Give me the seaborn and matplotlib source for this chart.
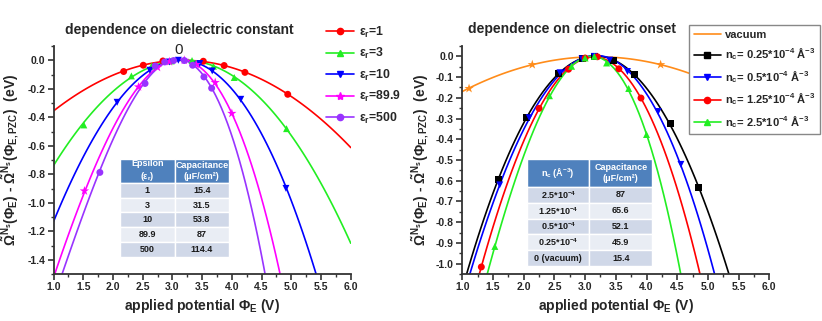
import numpy as np
import seaborn as sns
import matplotlib.pyplot as plt
from matplotlib.lines import Line2D
from matplotlib.ticker import MultipleLocator, FormatStrFormatter

# ---- left panel: dependence on dielectric constant (markers)
eps_names = ['1', '3', '10', '89.9', '500']
eps_colors = ['#FF0000', '#22EE22', '#0000FF', '#FF00FF', '#9933FF']
eps_markers = ['o', '^', 'v', '*', 'o']

e1_x = [2.18, 2.51, 2.84, 3.52, 3.87, 4.22, 4.94]
e1_y = [-0.079, -0.035, -0.005, -0.007, -0.037, -0.085, -0.239]
e3_x = [1.51, 2.31, 2.65, 2.98, 3.33, 3.69, 4.04, 4.92]
e3_y = [-0.454, -0.110, -0.040, -0.005, -0.002, -0.042, -0.121, -0.480]
e10_x = [2.07, 2.62, 2.95, 3.10, 3.46, 3.67, 4.15, 4.91]
e10_y = [-0.295, -0.070, -0.012, 0.0, -0.023, -0.075, -0.274, -0.899]
e89_x = [1.52, 2.43, 2.75, 2.95, 3.20, 3.40, 3.72, 4.00]
e89_y = [-0.917, -0.187, -0.050, -0.010, 0.0, -0.030, -0.156, -0.373]
e500_x = [1.78, 2.54, 2.71, 2.87, 3.02, 3.20, 3.34, 3.53, 3.66]
e500_y = [-0.787, -0.163, -0.040, -0.012, -0.002, -0.002, -0.035, -0.117, -0.196]

# points where the fitted curves leave the frame
e1_lx, e1_ly = [1.0, 6.0], [-0.355, -0.612]
e3_lx, e3_ly = [1.0, 6.0], [-0.731, -1.284]
e10_lx, e10_ly = [1.0, 5.42], [-1.132, -1.5]
e89_lx, e89_ly = [1.025, 4.81], [-1.5, -1.5]
e500_lx, e500_ly = [1.14, 4.56], [-1.5, -1.5]

eps_table = [['1', '15.4'], ['3', '31.5'], ['10', '53.8'], ['89.9', '87'], ['500', '114.4']]

# ---- right panel: dependence on dielectric onset
nc_names = ['0.25', '0.5', '1.25', '2.5']
nc_colors = ['#000000', '#0000FF', '#FF0000', '#22EE22']
nc_markers = ['s', 'v', 'o', '^']

vac_x = [1.11, 2.14, 4.23]
vac_y = [-0.155, -0.040, -0.040]
vac_lx, vac_ly = [1.0, 3.17], [-0.168, -0.002]

n25_x = [1.59, 2.04, 2.56, 2.95, 3.15, 3.46, 3.80, 4.39, 4.84]
n25_y = [-0.594, -0.295, -0.083, -0.012, 0.0, -0.021, -0.088, -0.322, -0.632]
n5_x = [1.61, 2.09, 2.59, 2.95, 3.15, 3.40, 3.69, 4.19, 4.56]
n5_y = [-0.620, -0.296, -0.079, -0.012, 0.0, -0.018, -0.073, -0.266, -0.521]
n125_x = [1.31, 2.25, 2.73, 3.00, 3.20, 3.55, 3.91]
n125_y = [-1.016, -0.251, -0.062, -0.008, -0.002, -0.060, -0.201]
n250_x = [1.53, 2.42, 2.78, 3.00, 3.15, 3.35, 3.71, 4.00]
n250_y = [-0.917, -0.190, -0.048, -0.008, 0.0, -0.032, -0.155, -0.377]

n25_lx, n25_ly = [1.07, 5.344], [-1.05, -1.05]
n5_lx, n5_ly = [1.125, 5.104], [-1.05, -1.05]
n125_lx, n125_ly = [1.277, 4.871], [-1.05, -1.05]
n250_lx, n250_ly = [1.407, 4.557], [-1.05, -1.05]

nc_table = [[r'2.5*10$^{-4}$', '87'], [r'1.25*10$^{-4}$', '65.6'], [r'0.5*10$^{-4}$', '52.1'],
            [r'0.25*10$^{-4}$', '45.9'], ['0 (vacuum)', '15.4']]

sns.set_style("ticks")
plt.rcParams['font.family'] = ['Liberation Sans', 'DejaVu Sans']
plt.rcParams['font.weight'] = 'bold'
plt.rcParams['axes.unicode_minus'] = False
plt.rcParams['mathtext.fontset'] = 'custom'
plt.rcParams['mathtext.rm'] = 'Liberation Sans:bold'
plt.rcParams['mathtext.it'] = 'Liberation Sans:bold'
plt.rcParams['mathtext.bf'] = 'Liberation Sans:bold'

fig = plt.figure(figsize=(8.22, 3.21), dpi=100)
ax1 = fig.add_axes([0.0651, 0.1464, 0.3616, 0.7103])
ax2 = fig.add_axes([0.5624, 0.1464, 0.3735, 0.7103])

ylabel = r'$\tilde{\Omega}^{N_s}(\Phi_E)$ - $\tilde{\Omega}^{N_s}(\Phi_{E,PZC})$  (eV)'
xlabel = r'applied potential $\Phi_E$ (V)'


def draw_series(ax, mx, my, lx, ly, color, marker, order=3):
    sns.regplot(x=np.array(mx + lx), y=np.array(my + ly), order=order, ci=None,
                scatter=False, truncate=False, color=color,
                line_kws={'lw': 1.2}, ax=ax)
    ms = 50 if marker == '*' else 25
    sns.scatterplot(x=mx, y=my, marker=marker, color=color, s=ms,
                    edgecolor='none', ax=ax, zorder=3)


def style_axis(ax, ymin, ymax, ymajor, yminor):
    ax.set_xlim(1.0, 6.0)
    ax.set_ylim(ymin, ymax)
    ax.xaxis.set_major_locator(MultipleLocator(0.5))
    ax.xaxis.set_minor_locator(MultipleLocator(0.25))
    ax.yaxis.set_major_locator(MultipleLocator(ymajor))
    ax.yaxis.set_minor_locator(MultipleLocator(yminor))
    ax.xaxis.set_major_formatter(FormatStrFormatter('%.1f'))
    ax.yaxis.set_major_formatter(FormatStrFormatter('%.1f'))
    ax.tick_params(which='major', direction='out', length=4, width=1.2,
                   labelsize=7.5, color='#333333', pad=2)
    ax.tick_params(which='minor', direction='out', length=2.5, width=1.0, color='#333333')
    for lab in ax.get_xticklabels() + ax.get_yticklabels():
        lab.set_fontweight('bold')
    for s in ['top', 'right']:
        ax.spines[s].set_visible(False)
    for s in ['left', 'bottom']:
        ax.spines[s].set_linewidth(1.3)
        ax.spines[s].set_color('#333333')
    ax.set_xlabel(xlabel, fontsize=10, fontweight='bold', labelpad=3)
    ax.set_ylabel(ylabel, fontsize=10, fontweight='bold')


def add_table(ax, rows, header, bbox, head_ratio):
    tbl = ax.table(cellText=rows, colLabels=header, cellLoc='center', bbox=bbox, zorder=5)
    tbl.auto_set_font_size(False)
    for (r, c), cell in tbl.get_celld().items():
        cell.set_edgecolor('white')
        cell.set_linewidth(1.0)
        txt = cell.get_text()
        txt.set_fontsize(6.5)
        txt.set_fontweight('bold')
        if r == 0:
            cell.set_facecolor('#4F81BD')
            txt.set_color('white')
            cell.set_height(cell.get_height() * head_ratio)
        else:
            cell.set_facecolor('#D0D8E8' if r % 2 == 1 else '#E9EDF4')
            txt.set_color('#1a1a1a')
    return tbl


# ---------------- left panel
ax1.set_xlim(1.0, 6.0)
eps_data = [(e1_x, e1_y, e1_lx, e1_ly), (e3_x, e3_y, e3_lx, e3_ly),
            (e10_x, e10_y, e10_lx, e10_ly), (e89_x, e89_y, e89_lx, e89_ly),
            (e500_x, e500_y, e500_lx, e500_ly)]
for (mx, my, lx, ly), col, mk in zip(eps_data, eps_colors, eps_markers):
    draw_series(ax1, mx, my, lx, ly, col, mk)
style_axis(ax1, -1.5, 0.1, 0.2, 0.1)
ax1.text(0.422, 1.07, 'dependence on dielectric constant', transform=ax1.transAxes,
         ha='center', va='center', fontsize=10, fontweight='bold')
ax1.text(3.11, 0.075, '0', ha='center', va='center', fontsize=11, fontweight='normal')

handles = [Line2D([], [], color=c, marker=m, lw=1.2, ms=6 if m == '*' else 4.5)
           for c, m in zip(eps_colors, eps_markers)]
labels = [r'$\varepsilon_r$=' + n for n in eps_names]
leg = ax1.legend(handles, labels, loc='upper left', bbox_to_anchor=(0.9, 1.115),
                 frameon=False, fontsize=8.8, handlelength=2.3, handletextpad=0.4,
                 labelspacing=0.52, borderaxespad=0)

add_table(ax1, eps_table, ['Epsilon\n' + r'($\varepsilon_r$)', 'Capacitance\n(μF/cm²)'],
          [0.2237, 0.0746, 0.367, 0.43], 1.6)

# ---------------- right panel
ax2.set_xlim(1.0, 6.0)
draw_series(ax2, vac_x, vac_y, vac_lx, vac_ly, '#FF8C1A', '*', order=2)
nc_data = [(n25_x, n25_y, n25_lx, n25_ly), (n5_x, n5_y, n5_lx, n5_ly),
           (n125_x, n125_y, n125_lx, n125_ly), (n250_x, n250_y, n250_lx, n250_ly)]
for (mx, my, lx, ly), col, mk in zip(nc_data, nc_colors, nc_markers):
    draw_series(ax2, mx, my, lx, ly, col, mk)
style_axis(ax2, -1.05, 0.05, 0.1, 0.05)
ax2.text(0.357, 1.075, 'dependence on dielectric onset', transform=ax2.transAxes,
         ha='center', va='center', fontsize=10, fontweight='bold')

handles2 = [Line2D([], [], color='#FF8C1A', lw=1.2)]
handles2 += [Line2D([], [], color=c, marker=m, lw=1.2, ms=4.5) for c, m in zip(nc_colors, nc_markers)]
labels2 = ['vacuum'] + [r'n$_c$= ' + n + r'*10$^{-4}$ Å$^{-3}$' for n in nc_names]
leg2 = ax2.legend(handles2, labels2, loc='upper left', bbox_to_anchor=(0.74, 1.09),
                  frameon=True, fancybox=False, fontsize=8, handlelength=2.4,
                  handletextpad=0.4, labelspacing=0.6, borderaxespad=0, borderpad=0.4)
leg2.get_frame().set_edgecolor('#888888')
leg2.get_frame().set_linewidth(1.0)
leg2.get_frame().set_alpha(1)

add_table(ax2, nc_table, [r'n$_c$ (Å$^{-3}$)', 'Capacitance\n(μF/cm²)'],
          [0.2107, 0.035, 0.407, 0.469], 1.77)

ax1.yaxis.set_label_coords(-0.109, 0.5)
ax2.yaxis.set_label_coords(-0.102, 0.5)

fig.savefig('out.png', dpi=100)
